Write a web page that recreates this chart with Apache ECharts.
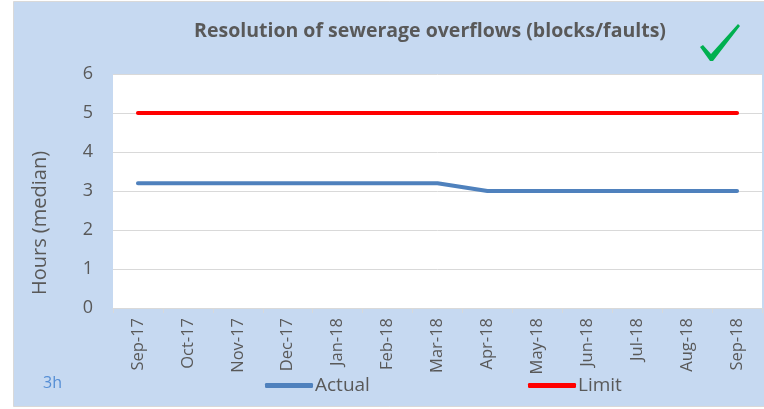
<!DOCTYPE html>
<html><head><meta charset="utf-8">
<script src="https://cdn.jsdelivr.net/npm/echarts@6/dist/echarts.min.js"></script>
<style>html,body{margin:0;padding:0;background:#fff}#c{width:764px;height:409px}</style>
</head><body><div id="c"></div>
<script>
const categories = ['Sep-17','Oct-17','Nov-17','Dec-17','Jan-18','Feb-18','Mar-18','Apr-18','May-18','Jun-18','Jul-18','Aug-18','Sep-18'];
const actual = [3.2,3.2,3.2,3.2,3.2,3.2,3.2,3.0,3.0,3.0,3.0,3.0,3.0];
const limit = [5,5,5,5,5,5,5,5,5,5,5,5,5];
const yTicks = [0,1,2,3,4,5,6];

const chart = echarts.init(document.getElementById('c'));
const font = "'Open Sans', 'Noto Sans', sans-serif";
chart.setOption({
  animation: false,
  textStyle: {fontFamily: font},
  graphic: [
    {type:'rect', z:-10, shape:{x:13.5,y:1.5,width:760,height:405}, style:{fill:'#C6D9F1', stroke:'#D9D9D9', lineWidth:1}},
    {type:'text', style:{x:430, y:31, text:'Resolution of sewerage overflows (blocks/faults)', fill:'#595959', font:"bold 19.5px 'Open Sans', sans-serif", align:'center', verticalAlign:'middle'}},
    {type:'polygon', shape:{points:[[700,47],[703,45],[711,54],[738,24],[740,26],[713,61],[710,61]]}, style:{fill:'#00B050'}},
    {type:'text', style:{x:43, y:383, text:'3h', fill:'#558ED5', font:"16px 'Open Sans', sans-serif", verticalAlign:'middle'}},
    {type:'text', x:40, y:223, rotation:Math.PI/2, style:{x:0, y:0, text:'Hours (median)', fill:'#595959', font:"20px 'Open Sans', sans-serif", align:'center', verticalAlign:'middle'}}
  ],
  grid: {left:113, right:2, top:74, bottom:101, show:true, backgroundColor:'#fff', borderWidth:0},
  legend: [
    {bottom: 9, left: 260, itemWidth: 48, itemHeight: 5, icon:'roundRect', textStyle:{fontSize:19, color:'#595959', padding:[0,0,0,-3]}, data:['Actual']},
    {bottom: 9, left: 523, itemWidth: 48, itemHeight: 5, icon:'roundRect', textStyle:{fontSize:19, color:'#595959', padding:[0,0,0,-3]}, data:['Limit']}
  ],
  xAxis: {
    type:'category', data: categories, boundaryGap:true,
    axisLine:{lineStyle:{color:'#D9D9D9', width:1}},
    axisTick:{show:true, length:5, lineStyle:{color:'#D9D9D9'}},
    axisLabel:{rotate:90, fontSize:16.5, color:'#595959', margin:10, interval:0}
  },
  yAxis: {
    type:'value', min:yTicks[0], max:yTicks[yTicks.length-1], interval:1,
    axisLine:{show:false}, axisTick:{show:false},
    axisLabel:{fontSize:18, color:'#595959', margin:20},
    splitLine:{lineStyle:{color:'#D9D9D9', width:1}}
  },
  series: [
    {name:'Actual', type:'line', data: actual, showSymbol:false, symbol:'none', lineStyle:{color:'#4F81BD', width:4, cap:'round'}, itemStyle:{color:'#4F81BD'}},
    {name:'Limit', type:'line', data: limit, showSymbol:false, symbol:'none', lineStyle:{color:'#FF0000', width:4, cap:'round'}, itemStyle:{color:'#FF0000'}}
  ]
});
</script></body></html>
